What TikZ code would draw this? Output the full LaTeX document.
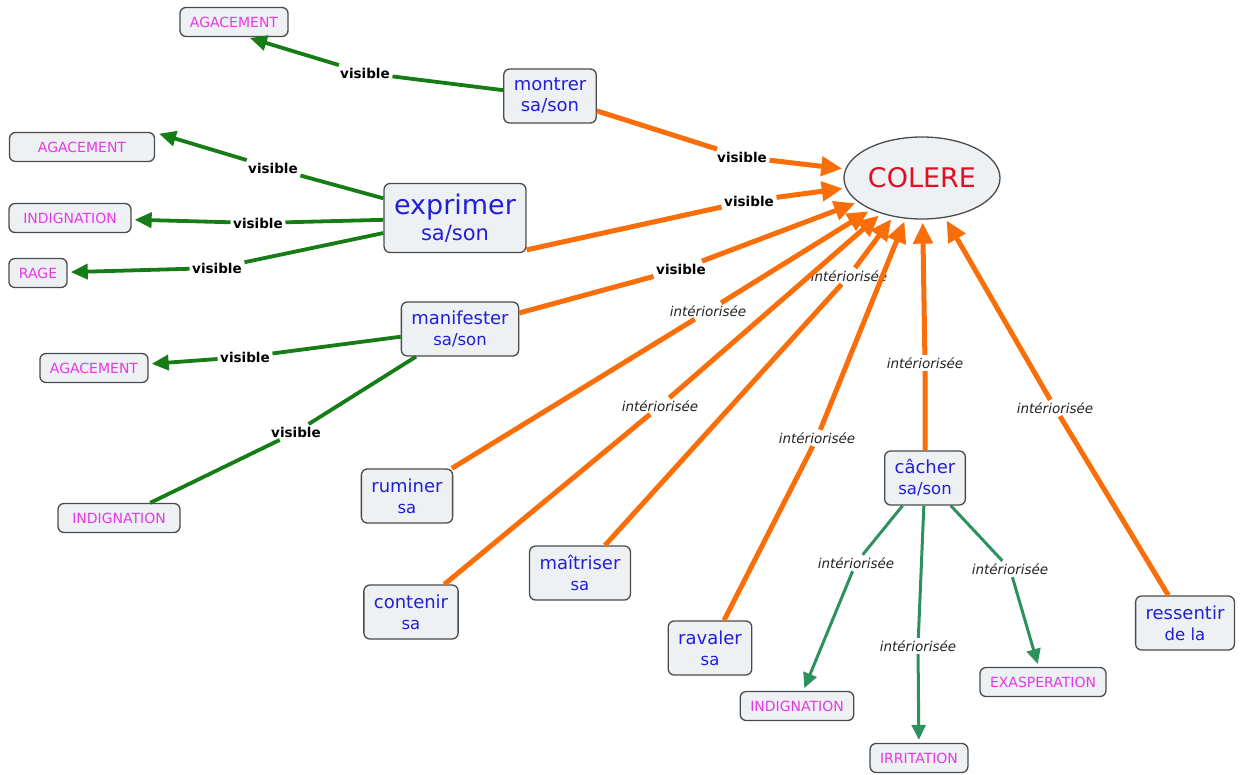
\documentclass[tikz,border=0pt]{standalone}
\usepackage{fontspec}
\setmainfont{DejaVu Sans}[BoldFont={DejaVu Sans Bold},ItalicFont={DejaVu Sans Oblique}]
\usetikzlibrary{shapes.geometric,arrows.meta,calc}
\definecolor{boxfill}{RGB}{237,241,244}
\definecolor{boxline}{RGB}{75,75,75}
\definecolor{cptblue}{RGB}{35,30,215}
\definecolor{feelpink}{RGB}{232,55,232}
\definecolor{angerred}{RGB}{225,15,35}
\definecolor{vgreen}{RGB}{22,125,22}
\definecolor{iorange}{RGB}{250,110,10}
\definecolor{igreen}{RGB}{45,145,95}
\definecolor{lbltext}{RGB}{35,35,35}
\newcommand{\cplt}[1]{{\fontsize{16.5}{20}\selectfont #1}}
\newcommand{\vis}{visible}
\newcommand{\intr}{intériorisée}

\begin{document}
\begin{tikzpicture}[x=1pt, y=-1pt,
	concept/.style={draw=boxline, fill=boxfill, line width=1.3pt, rounded corners=6pt, text=cptblue, align=center, inner xsep=10pt, inner ysep=6pt, minimum height=54pt, font=\fontsize{18}{21}\selectfont},
	feeling/.style={draw=boxline, fill=boxfill, line width=1.3pt, rounded corners=6pt, text=feelpink, inner xsep=10pt, inner ysep=0pt, minimum height=29pt, font=\fontsize{14}{16}\selectfont},
	shown/.style={-{Triangle[length=17pt,width=15pt]}, draw=vgreen, line width=3.8pt, shorten >=3pt},
	shownline/.style={draw=vgreen, line width=3.8pt},
	toanger/.style={-{Triangle[length=21pt,width=19pt]}, draw=iorange, line width=5pt, shorten >=3pt},
	hidden/.style={-{Triangle[length=15pt,width=14pt]}, draw=igreen, line width=3pt, shorten >=3pt},
	lblvis/.style={inner sep=2.5pt, text=black, font=\fontsize{13.5}{16}\selectfont\bfseries},
	lblint/.style={fill=white, inner sep=2.5pt, text=lbltext, font=\fontsize{13.5}{16}\selectfont\itshape}]
	\useasboundingbox (0,0) rectangle (1240,774);

	\node[ellipse, draw=boxline, fill=boxfill, line width=1.3pt, minimum width=156pt, minimum height=82pt, inner sep=0pt, text=angerred, font=\fontsize{27}{30}\selectfont] (colere) at (922,178) {COLERE};

	\node[concept] (montrer) at (550,96) {montrer\\sa/son};
	\node[concept, minimum height=69pt, font=\fontsize{27}{26}\selectfont] (exprimer) at (455,218) {exprimer\\{\fontsize{21}{26}\selectfont sa/son}};
	\node[concept] (manif) at (460,329) {manifester\\\cplt{sa/son}};
	\node[concept] (ruminer) at (407,496) {ruminer\\\cplt{sa}};
	\node[concept] (contenir) at (411,612) {contenir\\\cplt{sa}};
	\node[concept] (maitriser) at (580,573) {maîtriser\\\cplt{sa}};
	\node[concept] (ravaler) at (710,648) {ravaler\\\cplt{sa}};
	\node[concept] (cacher) at (925,478) {câcher\\\cplt{sa/son}};
	\node[concept] (ressentir) at (1185,623) {ressentir\\\cplt{de la}};

	\node[feeling] (aga1) at (234,22) {AGACEMENT};
	\node[feeling, minimum width=145pt] (aga2) at (82,147) {AGACEMENT};
	\node[feeling, minimum width=122pt] (indig1) at (70,218) {INDIGNATION};
	\node[feeling] (rage) at (38,273) {RAGE};
	\node[feeling] (aga3) at (94,368) {AGACEMENT};
	\node[feeling, minimum width=122pt] (indig2) at (119,518) {INDIGNATION};
	\node[feeling] (indig3) at (797,706) {INDIGNATION};
	\node[feeling] (irrit) at (919,758) {IRRITATION};
	\node[feeling] (exasp) at (1043,682) {EXASPERATION};

	\node[lblvis] (vis1) at (365,73) {\vis};
	\node[lblvis] (vis2) at (273,168) {\vis};
	\node[lblvis] (vis3) at (258,223) {\vis};
	\node[lblvis] (vis4) at (217,268) {\vis};
	\node[lblvis] (vis5) at (245,357) {\vis};
	\node[lblvis] (vis6) at (296,432) {\vis};
	\node[lblvis] (vis7) at (742,157) {\vis};
	\node[lblvis] (vis8) at (749,201) {\vis};
	\node[lblvis] (vis9) at (681,269) {\vis};
	\node[lblint] (int1) at (708,311) {\intr};
	\node[lblint] (int2) at (660,406) {\intr};
	\node[lblint] (int3) at (849,276) {\intr};
	\node[lblint] (int4) at (817,438) {\intr};
	\node[lblint] (int5) at (925,363) {\intr};
	\node[lblint] (int6) at (1055,408) {\intr};
	\node[lblint] (int7) at (856,563) {\intr};
	\node[lblint] (int8) at (918,646) {\intr};
	\node[lblint] (int9) at (1010,569) {\intr};

	\draw[shown] (montrer) -- (vis1) -- ($(aga1.south)+(13,0)$);
	\draw[shown] (exprimer) -- (vis2) -- ($(aga2.north east)+(1,1)$);
	\draw[shown] (exprimer) -- (vis3) -- (indig1);
	\draw[shown] (exprimer) -- (vis4) -- (rage);
	\draw[shown] (manif) -- (vis5) -- (aga3);
	\draw[shownline] (manif) -- (vis6) -- (indig2);

	\draw[toanger] (montrer) -- (vis7) -- (colere);
	\draw[toanger] (exprimer.-24) -- (vis8) -- (colere);
	\draw[toanger] (manif) -- (vis9) -- (colere);
	\draw[toanger] (ruminer) -- (int1) -- (colere);
	\draw[toanger] (contenir) -- (int2) -- (colere);
	\draw[toanger] (maitriser) -- (int3) -- (colere);
	\draw[toanger] (ravaler) -- (int4) -- (colere);
	\draw[toanger] (cacher) -- (int5) -- (colere);
	\draw[toanger] (ressentir) -- (int6) -- (colere);

	\draw[hidden] (cacher) -- (int7) -- (indig3);
	\draw[hidden] (cacher) -- (int8) -- (irrit);
	\draw[hidden] (cacher) -- (int9) -- (exasp);
\end{tikzpicture}
\end{document}
